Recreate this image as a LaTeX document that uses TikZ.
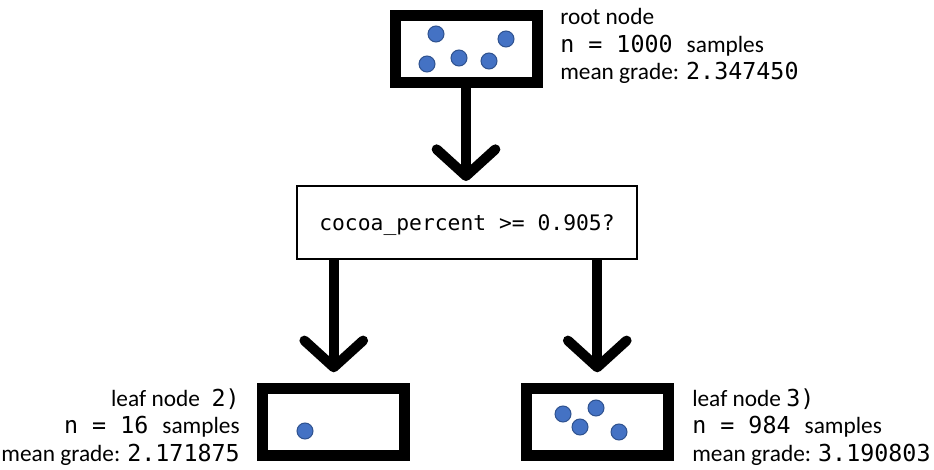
\documentclass[tikz,border=0pt]{standalone}
\usepackage{fontspec}
\setmainfont{Carlito}
\setmonofont{DejaVu Sans Mono}
\usetikzlibrary{arrows.meta}
\definecolor{dotblue}{HTML}{4472C4}
\definecolor{dotedge}{HTML}{2F528F}

\begin{document}
\begin{tikzpicture}[x=0.75pt,y=-0.75pt,
  bucket/.style={draw,line width=8.25pt,minimum width=106.5pt,minimum height=50pt,inner sep=0pt},
  question/.style={draw,line width=1.5pt,minimum width=255pt,minimum height=54.75pt,
    text depth=0pt,font=\fontsize{16}{19}\selectfont\ttfamily},
  sample/.style={circle,fill=dotblue,draw=dotedge,line width=0.75pt,minimum size=12pt,inner sep=0pt},
  info/.style={inner sep=0pt,font=\fontsize{17.5}{20.6}\selectfont},
  flow/.style={line width=7.5pt,-{Straight Barb[length=20pt,width=44pt,round]}}]
\useasboundingbox (0,0) rectangle (934,470);
% the three buckets and the split
\node[bucket] (root) at (466,48.75) {};
\node[question] (split) at (467,222.5) {cocoa\_percent >= 0.905?};
\node[bucket] (leaf2) at (333.75,421.75) {};
\node[bucket] (leaf3) at (597.25,421.75) {};
% samples
\foreach \x/\y [count=\i] in {436/34, 506/39, 427/64, 459/58, 489/61}
  \node[sample] (r\i) at (\x,\y) {};
\node[sample] (a1) at (305,431) {};
\foreach \x/\y [count=\i] in {563/414, 596/408, 580/427, 619/432}
  \node[sample] (b\i) at (\x,\y) {};
% labels
\node[info,anchor=west,align=left] (rootinfo) at (560,46)
  {root node\\ \texttt{n = 1000 }samples\\ mean grade: \texttt{2.347450}};
\node[info,anchor=east,align=right] (leaf2info) at (240,427)
  {leaf node\enspace\texttt{2)}\\ \texttt{n = 16 }samples\\ mean grade: \texttt{2.171875}};
\node[info,anchor=west,align=left] (leaf3info) at (692,427)
  {leaf node \texttt{3)}\\ \texttt{n = 984 }samples\\ mean grade: \texttt{3.190803}};
% arrows
\draw[flow,shorten >=3pt] (root.south) -- (root.south |- split.north);
\draw[flow,shorten >=8pt] (split.south -| leaf2) -- (leaf2.north);
\draw[flow,shorten >=8pt] (split.south -| leaf3) -- (leaf3.north);
\end{tikzpicture}
\end{document}
